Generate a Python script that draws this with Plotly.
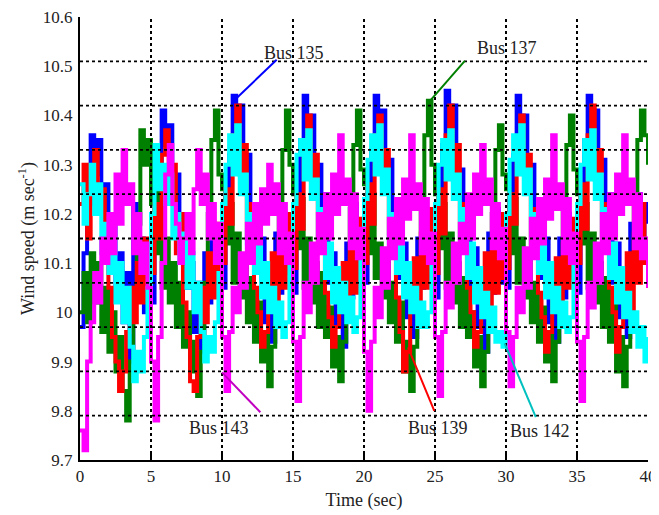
import plotly.graph_objects as go

time_s = [i * 0.25 for i in range(161)]

bus135 = [
    9.97, 10.12, 10.22, 10.36, 10.28, 10.35, 10.20, 10.26, 10.10, 10.18, 10.03, 10.12, 9.98, 10.08, 9.90, 10.22, 10.05, 10.15, 10.00, 10.08,
    10.02, 10.18, 10.30, 10.41, 10.34, 10.38, 10.22, 10.28, 10.12, 10.20, 10.05, 10.10, 9.96, 10.06, 9.92, 10.12, 10.02, 10.18, 10.06, 10.12,
    10.05, 10.25, 10.32, 10.44, 10.36, 10.42, 10.25, 10.32, 10.15, 10.22, 10.08, 10.15, 9.98, 10.08, 9.94, 10.16, 10.04, 10.20, 10.08, 10.14,
    10.04, 10.22, 10.35, 10.44, 10.34, 10.40, 10.24, 10.30, 10.14, 10.24, 10.06, 10.12, 9.97, 10.05, 9.93, 10.14, 10.03, 10.22, 10.05, 10.16,
    10.06, 10.24, 10.33, 10.44, 10.37, 10.41, 10.26, 10.31, 10.13, 10.21, 10.07, 10.14, 9.99, 10.07, 9.95, 10.15, 10.05, 10.19, 10.07, 10.13,
    10.03, 10.21, 10.34, 10.45, 10.35, 10.42, 10.23, 10.29, 10.15, 10.23, 10.05, 10.13, 9.97, 10.06, 9.92, 10.16, 10.04, 10.21, 10.06, 10.15,
    10.05, 10.23, 10.32, 10.44, 10.36, 10.40, 10.25, 10.30, 10.14, 10.22, 10.07, 10.15, 9.98, 10.08, 9.94, 10.15, 10.03, 10.20, 10.07, 10.14,
    10.04, 10.22, 10.35, 10.44, 10.35, 10.41, 10.24, 10.31, 10.13, 10.24, 10.06, 10.14, 9.99, 10.07, 9.95, 10.18, 10.08, 10.24, 10.12, 10.22,
    10.18,
]

bus137 = [
    10.00, 10.08, 9.98, 10.12, 10.02, 10.10, 9.96, 10.05, 9.92, 10.00, 9.88, 9.95, 9.84, 9.78, 9.90, 10.05, 10.18, 10.37, 10.30, 10.35,
    10.22, 10.12, 10.25, 10.05, 10.15, 10.02, 10.10, 9.97, 10.06, 9.93, 10.00, 9.88, 9.94, 9.83, 9.92, 10.06, 10.20, 10.35, 10.41, 10.28,
    10.25, 10.14, 10.22, 10.06, 10.16, 10.03, 10.11, 9.98, 10.07, 9.94, 10.02, 9.90, 9.96, 9.85, 9.93, 10.08, 10.22, 10.33, 10.41, 10.30,
    10.24, 10.13, 10.23, 10.05, 10.15, 10.02, 10.10, 9.97, 10.08, 9.95, 10.01, 9.89, 9.95, 9.86, 9.94, 10.07, 10.21, 10.34, 10.41, 10.29,
    10.26, 10.12, 10.24, 10.07, 10.14, 10.03, 10.12, 9.98, 10.06, 9.94, 10.02, 9.88, 9.94, 9.84, 9.93, 10.08, 10.22, 10.36, 10.43, 10.30,
    10.24, 10.13, 10.22, 10.05, 10.16, 10.02, 10.10, 9.97, 10.07, 9.95, 10.00, 9.89, 9.95, 9.85, 9.92, 10.06, 10.20, 10.33, 10.38, 10.28,
    10.25, 10.12, 10.23, 10.06, 10.15, 10.03, 10.11, 9.98, 10.06, 9.94, 10.01, 9.90, 9.96, 9.86, 9.94, 10.07, 10.21, 10.34, 10.40, 10.29,
    10.24, 10.14, 10.22, 10.05, 10.16, 10.02, 10.10, 9.97, 10.07, 9.94, 10.02, 9.88, 9.95, 9.85, 9.93, 10.08, 10.22, 10.35, 10.41, 10.36,
    10.30,
]

bus139 = [
    10.22, 10.30, 10.15, 10.28, 10.33, 10.20, 10.25, 10.10, 10.05, 9.95, 9.90, 9.84, 9.88, 9.96, 10.05, 9.98, 10.10, 10.02, 10.15, 10.05,
    10.08, 10.22, 10.15, 10.32, 10.37, 10.25, 10.30, 10.12, 10.20, 10.02, 9.95, 9.86, 9.84, 9.95, 10.05, 9.98, 10.12, 10.03, 10.18, 10.06,
    10.10, 10.25, 10.18, 10.36, 10.42, 10.28, 10.34, 10.15, 10.22, 10.05, 10.00, 9.93, 9.96, 10.04, 10.12, 10.00, 10.15, 10.05, 10.20, 10.08,
    10.09, 10.24, 10.17, 10.35, 10.40, 10.27, 10.32, 10.14, 10.21, 10.04, 9.99, 9.93, 9.97, 10.05, 10.10, 10.01, 10.14, 10.04, 10.19, 10.07,
    10.10, 10.26, 10.18, 10.36, 10.40, 10.29, 10.33, 10.16, 10.20, 10.03, 9.96, 9.88, 9.92, 10.03, 10.11, 9.99, 10.16, 10.05, 10.21, 10.08,
    10.08, 10.25, 10.16, 10.36, 10.42, 10.27, 10.34, 10.15, 10.22, 10.05, 10.00, 9.93, 9.96, 10.04, 10.12, 10.00, 10.15, 10.04, 10.20, 10.07,
    10.09, 10.24, 10.18, 10.35, 10.40, 10.28, 10.32, 10.14, 10.21, 10.04, 9.99, 9.92, 9.96, 10.05, 10.11, 10.01, 10.14, 10.05, 10.19, 10.08,
    10.10, 10.26, 10.17, 10.36, 10.42, 10.27, 10.33, 10.15, 10.22, 10.05, 10.00, 9.92, 9.97, 10.04, 10.12, 10.00, 10.16, 10.06, 10.22, 10.10,
    10.05,
]

bus142 = [
    10.26, 10.18, 10.24, 10.30, 10.20, 10.26, 10.12, 10.18, 10.08, 10.15, 10.02, 10.10, 9.98, 10.05, 9.93, 9.86, 9.92, 9.88, 9.95, 10.05,
    10.20, 10.34, 10.25, 10.30, 10.22, 10.28, 10.15, 10.20, 10.10, 10.16, 10.05, 10.12, 10.00, 10.06, 9.96, 9.90, 9.95, 9.92, 9.98, 10.08,
    10.22, 10.30, 10.36, 10.28, 10.38, 10.24, 10.28, 10.14, 10.20, 10.08, 10.15, 10.03, 10.10, 10.00, 10.05, 9.97, 10.02, 9.95, 9.98, 10.10,
    10.22, 10.32, 10.35, 10.27, 10.37, 10.23, 10.27, 10.15, 10.21, 10.07, 10.14, 10.02, 10.09, 10.00, 10.06, 9.98, 10.03, 9.96, 9.99, 10.12,
    10.23, 10.31, 10.36, 10.28, 10.38, 10.24, 10.29, 10.14, 10.20, 10.08, 10.15, 10.03, 10.10, 10.00, 10.05, 9.97, 10.02, 9.97, 10.00, 10.10,
    10.22, 10.30, 10.35, 10.27, 10.37, 10.23, 10.28, 10.15, 10.21, 10.07, 10.14, 10.02, 10.09, 9.99, 10.04, 9.96, 10.01, 9.94, 9.96, 9.93,
    10.20, 10.31, 10.36, 10.28, 10.38, 10.24, 10.29, 10.14, 10.20, 10.08, 10.15, 10.03, 10.10, 10.00, 10.05, 9.97, 10.02, 9.96, 9.99, 10.10,
    10.22, 10.30, 10.35, 10.27, 10.37, 10.23, 10.28, 10.15, 10.21, 10.07, 10.14, 10.02, 10.09, 9.99, 10.04, 9.96, 10.00, 9.93, 9.97, 9.90,
    9.95,
]

bus143 = [
    9.76, 9.72, 9.90, 9.98, 10.08, 10.02, 10.15, 10.10, 10.20, 10.12, 10.28, 10.18, 10.33, 10.22, 10.26, 10.12, 10.20, 10.08, 10.14, 10.05,
    9.90, 9.78, 9.95, 10.10, 10.28, 10.34, 10.22, 10.18, 10.10, 10.15, 10.20, 10.12, 10.25, 10.33, 10.22, 10.28, 10.15, 10.22, 10.10, 10.18,
    9.95, 9.84, 9.96, 10.05, 10.00, 10.12, 10.05, 10.18, 10.10, 10.22, 10.14, 10.25, 10.18, 10.30, 10.20, 10.26, 10.12, 10.22, 10.10, 10.16,
    9.94, 9.82, 9.95, 10.06, 10.00, 10.14, 10.06, 10.20, 10.12, 10.24, 10.15, 10.28, 10.20, 10.36, 10.22, 10.27, 10.13, 10.24, 10.11, 10.17,
    9.92, 9.80, 9.94, 10.05, 9.99, 10.13, 10.05, 10.19, 10.11, 10.23, 10.14, 10.27, 10.19, 10.36, 10.21, 10.26, 10.12, 10.23, 10.10, 10.16,
    9.95, 9.83, 9.96, 10.06, 10.01, 10.14, 10.06, 10.18, 10.12, 10.24, 10.15, 10.28, 10.20, 10.34, 10.22, 10.27, 10.13, 10.22, 10.11, 10.17,
    9.96, 9.85, 9.95, 10.05, 10.00, 10.13, 10.05, 10.19, 10.11, 10.23, 10.14, 10.27, 10.19, 10.36, 10.21, 10.26, 10.12, 10.23, 10.10, 10.16,
    9.94, 9.82, 9.95, 10.06, 10.01, 10.14, 10.06, 10.20, 10.12, 10.24, 10.15, 10.28, 10.20, 10.36, 10.22, 10.27, 10.13, 10.24, 10.11, 10.15,
    10.05,
]

series_names = ["Bus 135", "Bus 137", "Bus 139", "Bus 142", "Bus 143"]
series_values = [bus135, bus137, bus139, bus142, bus143]
series_colors = ["#0000FF", "#008000", "#FF0000", "#00FFFF", "#FF00FF"]

x_ticks = [0, 5, 10, 15, 20, 25, 30, 35, 40]
y_ticks = [9.7, 9.8, 9.9, 10.0, 10.1, 10.2, 10.3, 10.4, 10.5, 10.6]
y_tick_text = ["9.7", "9.8", "9.9", "10", "10.1", "10.2", "10.3", "10.4", "10.5", "10.6"]
grid_x = [5, 10, 15, 20, 25, 30, 35]
grid_y = [9.79, 9.88, 9.97, 10.06, 10.15, 10.24, 10.33, 10.42, 10.51]

# label: (text x, text y, line start x, y, line end x, y, line colour)
labels = [
    ("Bus 135", 15.1, 10.527, 13.85, 10.513, 10.98, 10.434, "#0000FF"),
    ("Bus 137", 30.1, 10.537, 27.1, 10.511, 24.6, 10.428, "#008000"),
    ("Bus 143", 9.8, 9.765, 10.0, 9.878, 12.7, 9.797, "#C000C0"),
    ("Bus 139", 25.2, 9.765, 23.1, 9.929, 24.95, 9.800, "#FF0000"),
    ("Bus 142", 32.4, 9.758, 29.9, 9.937, 32.1, 9.787, "#00C0C0"),
]

FONT = "Liberation Serif"

fig = go.Figure()
for name, vals, col in zip(series_names, series_values, series_colors):
    fig.add_trace(go.Scatter(
        x=time_s, y=vals, mode="lines", name=name,
        line=dict(color=col, width=4, shape="hv"),
        showlegend=False,
    ))

shapes = []
for gx in grid_x:
    shapes.append(dict(type="line", xref="x", yref="y", x0=gx, x1=gx, y0=9.7, y1=10.6,
                       line=dict(color="black", width=2, dash="dot"), layer="above"))
for gy in grid_y:
    shapes.append(dict(type="line", xref="x", yref="y", x0=0, x1=40, y0=gy, y1=gy,
                       line=dict(color="black", width=1.8, dash="dot"), layer="above"))

annotations = []
for txt, tx, ty, lx0, ly0, lx1, ly1, lc in labels:
    shapes.append(dict(type="line", xref="x", yref="y", x0=lx0, y0=ly0, x1=lx1, y1=ly1,
                       line=dict(color=lc, width=2), layer="above"))
    annotations.append(dict(x=tx, y=ty, xref="x", yref="y", text=txt, showarrow=False,
                            font=dict(family=FONT, size=18, color="#222222")))

fig.update_layout(
    width=651, height=507,
    margin=dict(l=72, r=11, t=9, b=55),
    paper_bgcolor="white", plot_bgcolor="white",
    font=dict(family=FONT, size=17, color="#222222"),
    shapes=shapes, annotations=annotations,
    xaxis=dict(
        range=[0, 40], tickvals=x_ticks, ticktext=[str(v) for v in x_ticks],
        showgrid=False, zeroline=False, showline=True, linecolor="black", linewidth=2,
        ticks="inside", ticklen=6, tickwidth=2, tickcolor="black", automargin=False,
        ticklabeloverflow="allow",
        tickfont=dict(family=FONT, size=17),
        title=dict(text="Time (sec)", font=dict(family=FONT, size=18), standoff=8),
    ),
    yaxis=dict(
        range=[9.7, 10.6], tickvals=y_ticks, ticktext=y_tick_text,
        showgrid=False, zeroline=False, showline=True, linecolor="black", linewidth=2,
        ticks="", ticklabelstandoff=2, automargin=False,
        ticklabeloverflow="allow",
        tickfont=dict(family=FONT, size=17),
        title=dict(text="Wind speed (m sec<sup>-1</sup>)", font=dict(family=FONT, size=18), standoff=4),
    ),
)

fig.write_html("out.html")
